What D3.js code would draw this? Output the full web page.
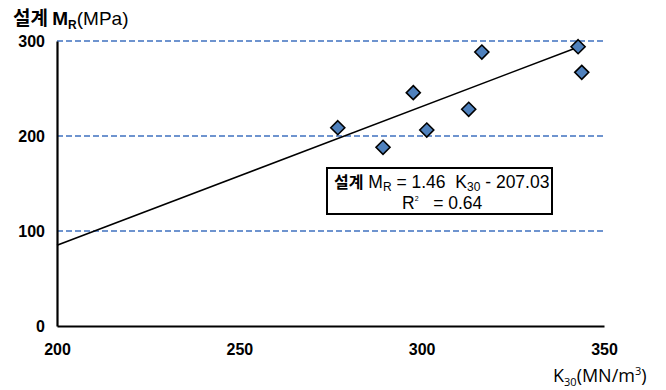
<!DOCTYPE html>
<head>
  <meta charset="utf-8">
  <title>설계 MR vs K30</title>
  <script src="https://d3js.org/d3.v7.min.js"></script>
  <style>
    body { margin: 0; background: #fff; }
    .tick text { font-family: "Liberation Sans", Arial, sans-serif; font-weight: bold; font-size: 16px; fill: #000; }
    .eq { white-space: pre; }
  </style>
</head>
<body>
  <svg width="666" height="390"></svg>

  <script>
  // values
  var k30 = [277.0, 289.4, 297.7, 301.4, 312.9, 316.5, 342.9, 343.9];
  var mr  = [208.7, 188.1, 245.6, 206.3, 228.1, 288.4, 294.0, 267.0];
  var xTicks = [200, 250, 300, 350];
  var yTicks = [0, 100, 200, 300];
  var fit = [1.46, -207.03];   // slope, intercept
  var r2 = 0.64;

  var svg = d3.select("svg");

  var x = d3.scaleLinear().domain([200, 350]).range([57, 604]);
  var y = d3.scaleLinear().domain([0, 300]).range([326, 41]);

  // dashed gridlines
  svg.append("g")
    .selectAll("line")
    .data(yTicks.filter(function(d) { return d > 0; }))
    .enter().append("line")
      .attr("x1", x(200)).attr("x2", x(350))
      .attr("y1", function(d) { return y(d); })
      .attr("y2", function(d) { return y(d); })
      .attr("stroke", "#3f72c0")
      .attr("stroke-width", 1.4)
      .attr("stroke-dasharray", "6,3");

  var yAxis = svg.append("g")
      .attr("transform", "translate(" + x(200) + ",0)")
      .call(d3.axisLeft(y).tickValues(yTicks).tickSize(0).tickPadding(12));
  yAxis.select(".domain").attr("stroke", "#000").attr("stroke-width", 2.2);

  var xAxis = svg.append("g")
      .attr("transform", "translate(0," + y(0) + ")")
      .call(d3.axisBottom(x).tickValues(xTicks).tickSize(0).tickPadding(18));
  xAxis.select(".domain").attr("stroke", "#000").attr("stroke-width", 2.2);

  // regression line
  var xMax = d3.max(k30);
  svg.append("line")
      .attr("x1", x(200)).attr("y1", y(fit[0] * 200 + fit[1]))
      .attr("x2", x(xMax)).attr("y2", y(fit[0] * xMax + fit[1]))
      .attr("stroke", "#000")
      .attr("stroke-width", 1.6);

  // diamonds
  svg.append("g")
    .selectAll("path")
    .data(k30)
    .enter().append("path")
      .attr("transform", function(d, i) { return "translate(" + x(d) + "," + y(mr[i]) + ")"; })
      .attr("d", "M0,-7L7,0L0,7L-7,0Z")
      .attr("fill", "#4f81bd")
      .attr("stroke", "#000")
      .attr("stroke-width", 1.6);

  // y title
  var yt = svg.append("text")
      .attr("x", 13).attr("y", 25)
      .attr("font-family", "'Liberation Sans', Arial, 'Noto Sans CJK KR', sans-serif")
      .attr("font-size", 19);
  yt.append("tspan").attr("font-weight", "bold").attr("font-family", "'Noto Sans CJK KR', sans-serif").text("설계 ");
  yt.append("tspan").attr("font-weight", "bold").text("M");
  yt.append("tspan").attr("font-weight", "bold").attr("font-size", 12).attr("dy", 4).text("R");
  yt.append("tspan").attr("dy", -4).text("(MPa)");

  // x title
  var xt = svg.append("text")
      .attr("x", 553).attr("y", 382)
      .attr("font-family", "'Open Sans', sans-serif")
      .attr("font-size", 18);
  xt.append("tspan").text("K");
  xt.append("tspan").attr("font-size", 11).attr("dy", 4).text("30");
  xt.append("tspan").attr("dy", -4).text("(MN/m");
  xt.append("tspan").attr("font-size", 11).attr("dy", -7).text("3");
  xt.append("tspan").attr("dy", 7).text(")");

  // equation box
  svg.append("rect")
      .attr("x", 327).attr("y", 168)
      .attr("width", 225).attr("height", 46)
      .attr("fill", "#fff")
      .attr("stroke", "#000")
      .attr("stroke-width", 2);

  var eq = svg.append("text")
      .attr("class", "eq")
      .attr("x", 334).attr("y", 188)
      .attr("font-family", "'Liberation Sans', Arial, sans-serif")
      .attr("font-size", 17.5);
  eq.append("tspan").attr("font-weight", "bold").attr("font-family", "'Noto Sans CJK KR', sans-serif").attr("font-size", 16).text("설계");
  eq.append("tspan").text(" M");
  eq.append("tspan").attr("font-size", 12).attr("dy", 3).text("R");
  eq.append("tspan").attr("dy", -3).text(" = " + fit[0].toFixed(2) + "  K");
  eq.append("tspan").attr("font-size", 12).attr("dy", 3).text("30");
  eq.append("tspan").attr("dy", -3).text(" - " + Math.abs(fit[1]).toFixed(2));

  var rt = svg.append("text")
      .attr("class", "eq")
      .attr("x", 402).attr("y", 209)
      .attr("font-family", "'Liberation Sans', Arial, sans-serif")
      .attr("font-size", 17.5);
  rt.append("tspan").text("R");
  rt.append("tspan").attr("font-size", 7).attr("dy", -8).text("2");
  rt.append("tspan").attr("dy", 8).text("   = " + r2.toFixed(2));
  </script>
</body>
